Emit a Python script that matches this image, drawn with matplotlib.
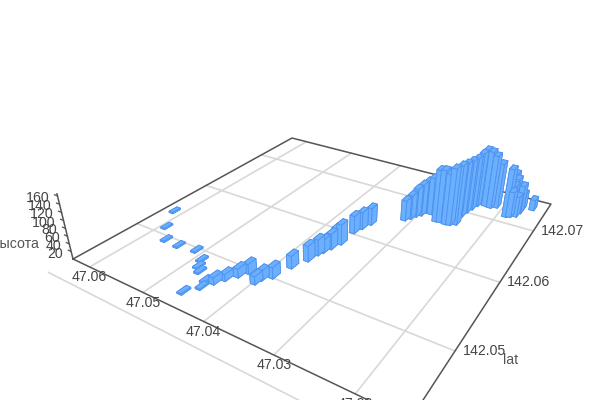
import numpy as np
import matplotlib
matplotlib.use('Agg')
import matplotlib.pyplot as plt
from mpl_toolkits.mplot3d import proj3d
from mpl_toolkits.mplot3d.art3d import Poly3DCollection

plt.rcParams['font.family'] = ['Liberation Sans', 'DejaVu Sans']

# bar data
lon = [47.0615, 47.0591, 47.0566, 47.0540, 47.0511, 47.0489, 47.0482, 47.0473, 47.0452, 47.0448, 47.0460,
       47.0441, 47.0434, 47.0425, 47.0419, 47.0398, 47.0396, 47.0387, 47.0380, 47.0371, 47.0368, 47.0365,
       47.0361, 47.0363, 47.0356, 47.0356, 47.0352, 47.0347,
       47.0311, 47.0306, 47.0302, 47.0297, 47.0294, 47.0286, 47.0271, 47.0265, 47.0262, 47.0256, 47.0250, 47.0243, 47.0245,
       47.0243, 47.0240, 47.0237, 47.0234, 47.0226, 47.0218, 47.0210, 47.0189, 47.0184, 47.0177, 47.0178,
       47.0175, 47.0191, 47.0184, 47.0185, 47.0175, 47.0161]
lat = [142.0539, 142.0512, 142.0495, 142.0494, 142.0497, 142.0488, 142.0479, 142.0474, 142.0466, 142.0458, 142.0445,
       142.0470, 142.0479, 142.0489, 142.0498, 142.0489, 142.0496, 142.0504, 142.0525, 142.0542, 142.0555, 142.0561,
       142.0570, 142.0581, 142.0582, 142.0606, 142.0617, 142.0629,
       142.0655, 142.0661, 142.0668, 142.0673, 142.0681, 142.0681, 142.0670, 142.0671, 142.0679, 142.0670, 142.0671, 142.0675, 142.0693,
       142.0704, 142.0713, 142.0723, 142.0729, 142.0728, 142.0727, 142.0731, 142.0717, 142.0719, 142.0723, 142.0741,
       142.0742, 142.0741, 142.0731, 142.0726, 142.0732, 142.0746]
height = [3.5, 3.5, 3.5, 3.5, 3.5, 3.5, 3.5, 3.5, 5, 3.5, 3.5,
          18, 18, 23, 26, 21, 25, 29, 33, 41, 42, 35,
          42, 41, 54, 48, 47, 47,
          56, 66, 78, 87, 89, 102, 141, 142, 131, 137, 153, 160, 147,
          144, 143, 149, 154, 153, 146, 124, 132, 70, 56, 52,
          45, 95, 93, 80, 77, 29]

lon_ticks = [47.06, 47.05, 47.04, 47.03, 47.02]
lat_ticks = [142.05, 142.06, 142.07]
lat_grid = [142.04, 142.05, 142.06, 142.07]
z_ticks = [20, 40, 60, 80, 100, 120, 140, 160]
z_label = 'высота'
lat_label = 'lat'

bar_dlon = 0.00075
bar_dlat = 0.0011
lon_range = (47.0634, 47.0141)
lat_range = (142.0425, 142.0765)
z_top = 165

# camera: floor plane (s, t) plus height, in figure pixels
camera = np.array([[214.7, 354.3, 324 * -0.000364, 73.0],
                   [35.8, -57.0, 1278 * -0.000364, 259.0],
                   [-0.2982, 0.4635, -0.000364, 1.0]])

fig = plt.figure(figsize=(6, 4), dpi=100, facecolor='white')
ax = fig.add_subplot(projection='3d', computed_zorder=False)
ax.set_position([0, -0.25, 1, 1.5])
ax.set_axis_off()
ax.apply_aspect()

to_unit = np.array([[1 / (lon_range[1] - lon_range[0]), 0, 0, -lon_range[0] / (lon_range[1] - lon_range[0])],
                    [0, 1 / (lat_range[1] - lat_range[0]), 0, -lat_range[0] / (lat_range[1] - lat_range[0])],
                    [0, 0, 1, 0],
                    [0, 0, 0, 1]])
flip = np.array([[1, 0, 0], [0, -1, 400], [0, 0, 1]], float)
P = ax.transData.inverted().get_matrix() @ flip @ camera @ to_unit
M = np.vstack([P[0], P[1], [0, 0, 0, -1], P[2]])
ax.get_proj = lambda: M
ax.M = M

ax.set_xlim(min(lon_range), max(lon_range))
ax.set_ylim(*lat_range)
ax.set_zlim(0, z_top)

grid_c = '#d8d8d8'
edge_c = '#555555'
lon0, lon1 = lon_range
lat0, lat1 = lat_range
for v in lon_ticks:
    ax.plot([v, v], [lat0, lat1], [0, 0], color=grid_c, lw=1.2, zorder=1)
for v in lat_grid:
    ax.plot([lon0, lon1], [v, v], [0, 0], color=grid_c, lw=1.2, zorder=1)
box_lon = [lon0, lon1, lon1, lon0, lon0]
box_lat = [lat0, lat0, lat1, lat1, lat0]
ax.plot(box_lon, box_lat, [0] * 5, color=edge_c, lw=1.1, zorder=1.5)
ax.plot([lon0, lon0], [lat0, lat0], [0, z_top], color=edge_c, lw=1.1, zorder=1.5)
for v in z_ticks:
    ax.plot([lon0, lon0 + 0.0006], [lat0, lat0], [v, v], color=edge_c, lw=0.9, zorder=1.5)

def bar_faces(x, y, h):
    xa, xb = x - bar_dlon / 2, x + bar_dlon / 2
    ya, yb = y - bar_dlat / 2, y + bar_dlat / 2
    c = [(xa, ya), (xb, ya), (xb, yb), (xa, yb)]
    faces = [[(*p, h) for p in c], [(*p, 0) for p in c]]
    for i in range(4):
        p, q = c[i], c[(i + 1) % 4]
        faces.append([(*p, 0), (*q, 0), (*q, h), (*p, h)])
    return faces

depth = [M[3] @ np.array([x, y, 0, 1]) for x, y in zip(lon, lat)]
order = np.argsort(depth)[::-1]
for rank, i in enumerate(order):
    col = Poly3DCollection(bar_faces(lon[i], lat[i], height[i]), facecolors='#6ab0ff',
                           edgecolors='#4f93ee', linewidths=0.6, zorder=2 + rank * 0.01)
    ax.add_collection3d(col)

def place(text, x, y, z, dx, dy, **kw):
    px, py, _ = proj3d.proj_transform(x, y, z, M)
    ax.annotate(text, (px, py), xytext=(dx, dy), textcoords='offset pixels',
                annotation_clip=False, zorder=50, **kw)

tick_kw = dict(fontsize=10.2, color='#444444', va='center')
for v in lon_ticks:
    place(f'{v:.2f}', v, lat0, 0, 0, -10.5, ha='center', **tick_kw)
for v in lat_ticks:
    place(f'{v:.2f}', lon1, v, 0, 7.5, 0, ha='left', **tick_kw)
for v in z_ticks:
    place(str(v), lon0, lat0, v, -8, -2, ha='right', **tick_kw)
place(z_label, lon0, lat0, 40, -30, 0, ha='right', fontsize=10.2, color='#555555', va='center')
place(lat_label, lon1, 142.05, 0, 56, -9, ha='center', fontsize=10.2, color='#555555', va='center')

fig.savefig('out.png', dpi=100, facecolor='white')
